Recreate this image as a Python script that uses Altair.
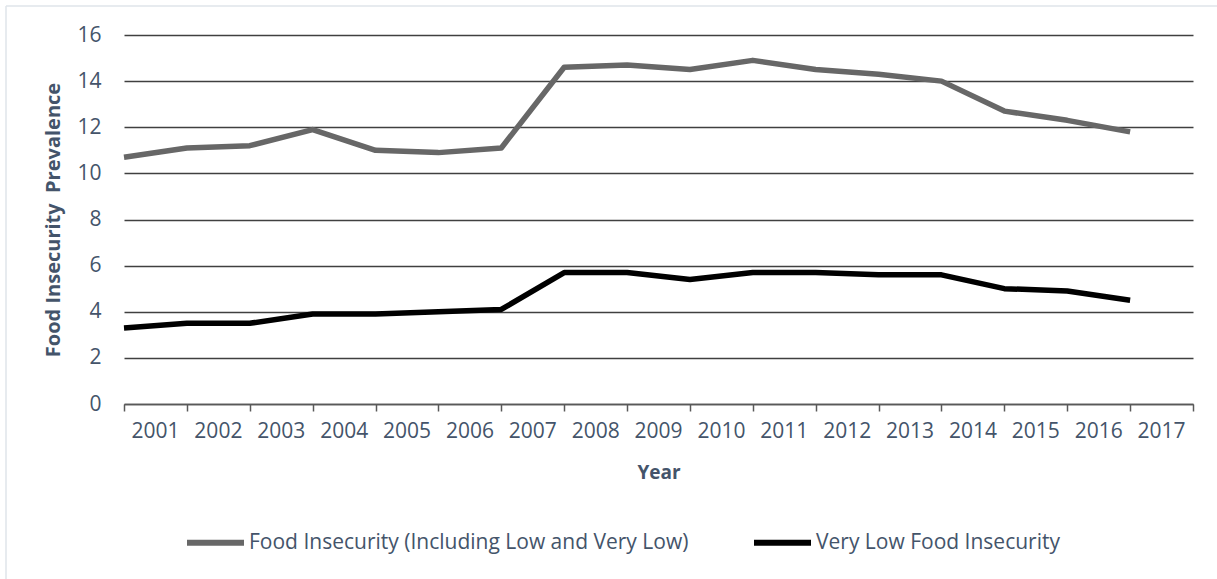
import altair as alt
import pandas as pd

years = [2001, 2002, 2003, 2004, 2005, 2006, 2007, 2008, 2009, 2010, 2011, 2012, 2013, 2014, 2015, 2016, 2017]
food_insecurity = [10.7, 11.1, 11.2, 11.9, 11.0, 10.9, 11.1, 14.6, 14.7, 14.5, 14.9, 14.5, 14.3, 14.0, 12.7, 12.3, 11.8]
very_low = [3.3, 3.5, 3.5, 3.9, 3.9, 4.0, 4.1, 5.7, 5.7, 5.4, 5.7, 5.7, 5.6, 5.6, 5.0, 4.9, 4.5]
series_names = ["Food Insecurity (Including Low and Very Low)", "Very Low Food Insecurity"]
series_colors = ["#676767", "#000000"]
x_ticks = years + [2018]
y_ticks = [0, 2, 4, 6, 8, 10, 12, 14, 16]

rows = []
for name, vals in zip(series_names, [food_insecurity, very_low]):
    for yr, v in zip(years, vals):
        rows.append({"Year": yr, "Value": v, "Series": name})
df = pd.DataFrame(rows)

TXT = "#44546A"
FONT = "Open Sans"
W, H = 1069, 369

lines = alt.Chart(df).mark_line(strokeWidth=5.5, strokeCap="butt", strokeJoin="round").encode(
    x=alt.X("Year:Q", scale=alt.Scale(domain=[2001, 2018], nice=False, zero=False),
            axis=alt.Axis(values=x_ticks, grid=False, title="Year",
                          labelExpr="datum.value < 2018 ? toString(datum.value) : ''",
                          labelOffset=31, labelPadding=9, labelFontSize=21,
                          labelOverlap=False, labelFlush=False, labelBound=False,
                          tickSize=7, tickColor="#595959", tickWidth=1.5,
                          domainColor="#595959", domainWidth=1.5,
                          titleFontSize=19, titleFontWeight="bold", titlePadding=22)),
    y=alt.Y("Value:Q", scale=alt.Scale(domain=[0, 16], nice=False),
            axis=alt.Axis(values=y_ticks, grid=True, domain=False, ticks=False,
                          title="Food Insecurity \u00a0Prevalence",
                          labelPadding=23, labelFontSize=21, labelOverlap=False,
                          labelFlush=False, labelBound=False,
                          gridColor="#404040", gridWidth=1.5,
                          titleFontSize=20, titleFontWeight="bold", titlePadding=13)),
    color=alt.Color("Series:N", scale=alt.Scale(domain=series_names, range=series_colors),
                    legend=alt.Legend(orient="none", legendX=60, legendY=476, direction="horizontal",
                                      title=None, symbolType="stroke", symbolSize=3249,
                                      symbolStrokeWidth=6, labelFontSize=21, labelLimit=0,
                                      labelOffset=2, columnPadding=53, labelColor=TXT, labelFont=FONT)),
)

border_top = alt.Chart().mark_rule(color="#dfe4ea", strokeWidth=1.5).encode(
    x=alt.value(-118), x2=alt.value(1100), y=alt.value(-29))
border_left = alt.Chart().mark_rule(color="#dfe4ea", strokeWidth=1.5).encode(
    x=alt.value(-118), y=alt.value(-29), y2=alt.value(560))

chart = alt.layer(border_top, border_left, lines).properties(
    width=W, height=H,
    autosize=alt.AutoSizeParams(type="none"),
    padding={"left": 124, "top": 35, "right": 24, "bottom": 175},
    background="white",
).configure_view(stroke=None).configure_axis(
    labelColor=TXT, titleColor=TXT, labelFont=FONT, titleFont=FONT
)

chart.save("out.html", embed_options={"renderer": "svg", "actions": False})
